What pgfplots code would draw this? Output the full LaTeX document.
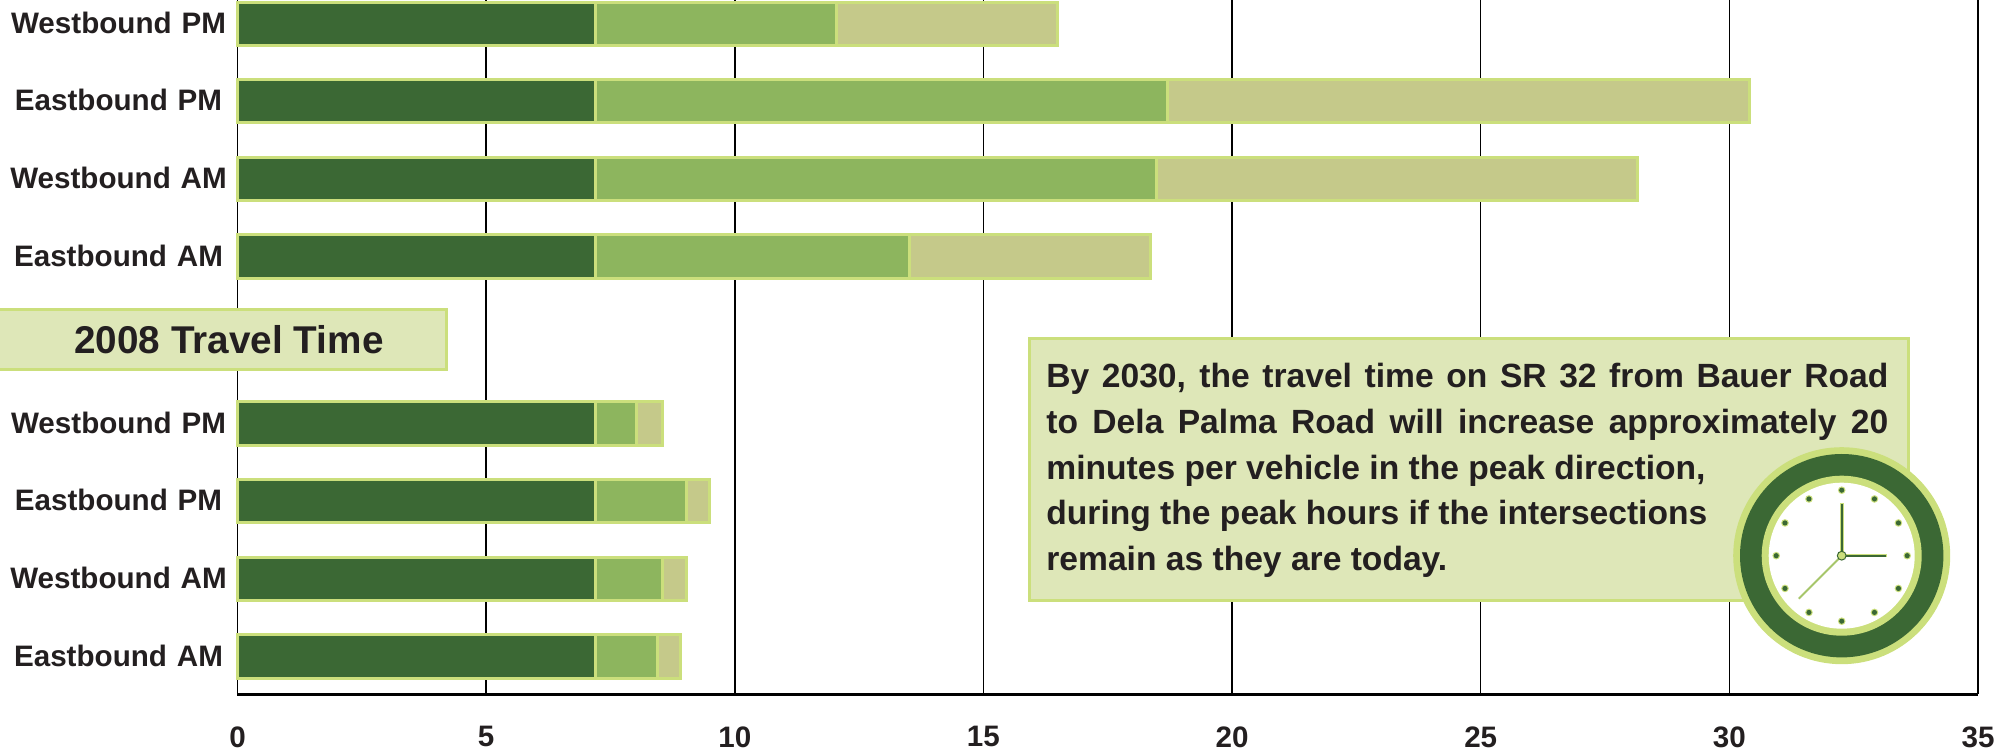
\documentclass[border=0pt]{standalone}
\usepackage{pgfplots}
\pgfplotsset{compat=1.18}
\usepackage{pgfplotstable}
\usepackage{fontspec}
\setmainfont{Liberation Sans}
\definecolor{darkg}{HTML}{3B6834}
\definecolor{midg}{HTML}{8DB55E}
\definecolor{lightg}{HTML}{C5C98A}
\definecolor{edgeg}{HTML}{CBDF7C}
\definecolor{boxg}{HTML}{DEE7B8}
\definecolor{inkc}{HTML}{231F20}
\pgfplotstableread{
pos base mid late
37.8  7.2 1.25 0.45
115.3 7.2 1.35 0.47
193.3 7.2 1.82 0.47
270.8 7.2 0.82 0.52
437.8 7.2 6.32 4.84
515.3 7.2 11.29 9.66
593.3 7.2 11.50 11.70
670.3 7.2 4.85 4.44
}\traveltimes
\begin{document}
\begin{tikzpicture}
\path[use as bounding box] (0,0) rectangle (1004.5pt,375pt);
\begin{axis}[
  at={(118.75pt,27.85pt)}, anchor=south west,
  scale only axis, width=870.25pt, height=347.15pt,
  xmin=0, xmax=35, ymin=0, ymax=694.3,
  xbar stacked, bar width=21.7pt,
  xtick={0,5,...,35}, xmajorgrids,
  grid style={black,line width=0.75pt},
  ytick={37.8,115.3,193.3,270.8,437.8,515.3,593.3,670.3},
  yticklabels={Eastbound AM,Westbound AM,Eastbound PM,Westbound PM,Eastbound AM,Westbound AM,Eastbound PM,Westbound PM},
  major tick length=0pt,
  axis line style={draw=none},
  tick label style={font=\bfseries\fontsize{14.8}{18}\selectfont,text=inkc},
  /pgf/number format/assume math mode=true,
  y tick label style={text width=110pt,align=center,anchor=east,inner sep=0pt,xshift=-4.3pt,yshift=0.5pt},
  x tick label style={yshift=-12.5pt},
  clip=false,
]
\addplot[fill=darkg,draw=edgeg,line width=1.5pt] table[x=base,y=pos]{\traveltimes};
\addplot[fill=midg,draw=edgeg,line width=1.5pt] table[x=mid,y=pos]{\traveltimes};
\addplot[fill=lightg,draw=edgeg,line width=1.5pt] table[x=late,y=pos]{\traveltimes};
\draw[black,line width=1.5pt] (axis cs:0,0)--(axis cs:35,0);
\end{axis}
\begin{scope}[x=0.5pt,y=-0.5pt,yshift=375pt]
\fill[boxg,draw=edgeg,line width=1.5pt] (-5,310) rectangle (446,370);
\node[font=\bfseries\fontsize{19.35}{22}\selectfont,text=inkc,inner sep=0pt,anchor=base] at (229,354) {2008 Travel Time};
\fill[boxg,draw=edgeg,line width=1.5pt] (1029,339) rectangle (1908,601);
\begin{scope}[every node/.style={font=\bfseries\fontsize{16.8}{20}\selectfont,text=inkc,inner sep=0pt,anchor=base west}]
\node at (1046,387.5) {\makebox[421pt][s]{By 2030, the travel time on SR 32 from Bauer Road}};
\node at (1046,434) {\makebox[421pt][s]{to Dela Palma Road will increase approximately 20}};
\node at (1046,479.5) {minutes per vehicle in the peak direction,};
\node at (1046,525) {during the peak hours if the intersections};
\node at (1046,570.5) {remain as they are today.};
\end{scope}
\fill[edgeg] (1841.7,555.7) circle[radius=108.5];
\fill[darkg] (1841.7,555.7) circle[radius=101.7];
\fill[edgeg] (1841.7,555.7) circle[radius=80];
\fill[white] (1841.7,555.7) circle[radius=73];
\foreach \a in {0,30,...,330}{
  \fill[edgeg] (1841.7,555.7) ++(\a:65.5) circle[radius=3.8];
  \fill[darkg] (1841.7,555.7) ++(\a:65.5) circle[radius=2.6];
}
\draw[midg!60!edgeg,line width=1pt] (1841.7,555.7) -- ++(-43,43);
\draw[edgeg,line width=1.8pt] (1841.7,555.7) -- ++(0,-53);
\draw[darkg,line width=1pt] (1841.7,555.7) -- ++(0,-52);
\draw[edgeg,line width=1.8pt] (1841.7,555.7) -- ++(45,0);
\draw[darkg,line width=1pt] (1841.7,555.7) -- ++(44,0);
\fill[edgeg,draw=darkg,line width=0.5pt] (1841.7,555.7) circle[radius=4.4];
\end{scope}
\end{tikzpicture}
\end{document}
